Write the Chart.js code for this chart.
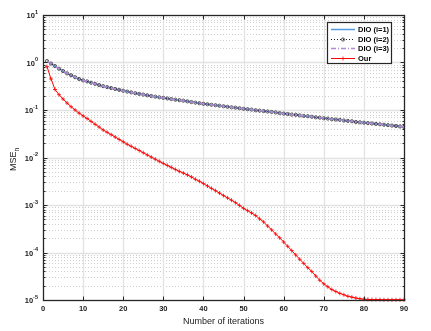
<!DOCTYPE html>
<html>
<head>
<meta charset="utf-8">
<script src="https://cdn.jsdelivr.net/npm/chart.js@4.4.0/dist/chart.umd.min.js"></script>
<style>
  html, body { margin: 0; padding: 0; background: #fff; }
  canvas { display: block; }
</style>
</head>
<body>
<canvas id="mseChart" width="431" height="331"></canvas>
<script>
// iterations 1..90
const iterations = Array.from({ length: 90 }, (_, i) => i + 1);

// DIO curves (i=1,2,3 lie on top of each other)
const dioValues = [
  1.07, 0.95, 0.84, 0.74, 0.66, 0.59, 0.54, 0.49, 0.45, 0.42,
  0.40, 0.375, 0.355, 0.335, 0.318, 0.303, 0.29, 0.277, 0.265, 0.254,
  0.244, 0.235, 0.226, 0.218, 0.211, 0.204, 0.197, 0.191, 0.185, 0.180,
  0.175, 0.170, 0.165, 0.161, 0.157, 0.152, 0.147, 0.143, 0.139, 0.135,
  0.132, 0.129, 0.126, 0.123, 0.120, 0.117, 0.114, 0.112, 0.109, 0.106,
  0.104, 0.102, 0.099, 0.097, 0.095, 0.093, 0.091, 0.089, 0.086, 0.084,
  0.082, 0.080, 0.079, 0.077, 0.075, 0.074, 0.072, 0.070, 0.069, 0.067,
  0.066, 0.064, 0.063, 0.062, 0.060, 0.059, 0.058, 0.056, 0.055, 0.054,
  0.053, 0.052, 0.051, 0.050, 0.049, 0.048, 0.047, 0.046, 0.045, 0.044
];

// our method
const ourValues = [
  0.82, 0.45, 0.27, 0.21, 0.17, 0.14, 0.117, 0.100, 0.086, 0.075,
  0.066, 0.0575, 0.050, 0.0437, 0.038, 0.0339, 0.0302, 0.0269, 0.024, 0.0214,
  0.019, 0.0172, 0.0155, 0.014, 0.0126, 0.0113, 0.0102, 0.0092, 0.0083, 0.0075,
  0.0068, 0.0062, 0.0056, 0.0051, 0.0047, 0.0043, 0.0039, 0.00347, 0.00316, 0.00282,
  0.00251, 0.00224, 0.0020, 0.00178, 0.00158, 0.00141, 0.00126, 0.00112, 0.00098, 0.00085,
  0.00076, 0.00068, 0.00060, 0.00051, 0.00044, 0.00036, 0.00030, 0.000245, 0.000204, 0.000166,
  0.000135, 0.00011, 0.000089, 0.000072, 0.000059, 0.000048, 0.000040, 0.000032, 0.000026, 0.0000219,
  0.000019, 0.0000166, 0.0000151, 0.0000138, 0.0000129, 0.000012, 0.0000115, 0.000011, 0.0000106, 0.0000104,
  0.0000103, 0.0000102, 0.0000102, 0.0000102, 0.0000101, 0.0000101, 0.0000101, 0.0000101, 0.0000101, 0.0000101
];

const seriesLabels = ['DIO (i=1)', 'DIO (i=2)', 'DIO (i=3)', 'Our'];
const xTicks = [0, 10, 20, 30, 40, 50, 60, 70, 80, 90];
const yExponents = [-5, -4, -3, -2, -1, 0, 1];

const FONT = '"Liberation Sans", Arial, sans-serif';

function pts(vals) {
  return iterations.map((x, i) => ({ x: x, y: vals[i] }));
}

// grid, box, tick marks, y labels, y title and legend drawn MATLAB style
const matlabFrame = {
  id: 'matlabFrame',
  beforeDatasetsDraw(chart) {
    const { ctx, chartArea: a, scales: { x, y } } = chart;
    ctx.save();
    ctx.lineWidth = 1;
    // minor grid (dotted, y only)
    ctx.strokeStyle = '#cfcfcf';
    ctx.setLineDash([1, 2]);
    ctx.beginPath();
    for (let e = -5; e < 1; e++) {
      for (let k = 2; k <= 9; k++) {
        const py = Math.round(y.getPixelForValue(k * Math.pow(10, e))) + 0.5;
        ctx.moveTo(a.left, py); ctx.lineTo(a.right, py);
      }
    }
    ctx.stroke();
    // major grid
    ctx.setLineDash([]);
    ctx.strokeStyle = '#e2e2e2';
    ctx.lineWidth = 1.3;
    ctx.beginPath();
    xTicks.slice(1, -1).forEach(v => {
      const px = Math.round(x.getPixelForValue(v)) + 0.5;
      ctx.moveTo(px, a.top); ctx.lineTo(px, a.bottom);
    });
    yExponents.slice(1, -1).forEach(e => {
      const py = Math.round(y.getPixelForValue(Math.pow(10, e))) + 0.5;
      ctx.moveTo(a.left, py); ctx.lineTo(a.right, py);
    });
    ctx.stroke();
    ctx.restore();
  },
  afterDatasetsDraw(chart) {
    const { ctx, chartArea: a, scales: { x, y } } = chart;
    const L = Math.round(a.left) + 0.5, R = Math.round(a.right) + 0.5;
    const T = Math.round(a.top) + 0.5, B = Math.round(a.bottom) + 0.5;
    ctx.save();
    ctx.strokeStyle = '#262626';
    ctx.lineWidth = 1.3;
    ctx.strokeRect(L, T, R - L, B - T);

    // tick marks inside the box
    ctx.lineWidth = 1;
    ctx.beginPath();
    xTicks.forEach(v => {
      const px = Math.round(x.getPixelForValue(v)) + 0.5;
      ctx.moveTo(px, B); ctx.lineTo(px, B - 4);
      ctx.moveTo(px, T); ctx.lineTo(px, T + 4);
    });
    yExponents.forEach(e => {
      const py = Math.round(y.getPixelForValue(Math.pow(10, e))) + 0.5;
      ctx.moveTo(L, py); ctx.lineTo(L + 4, py);
      ctx.moveTo(R, py); ctx.lineTo(R - 4, py);
      if (e < 1) {
        for (let k = 2; k <= 9; k++) {
          const my = Math.round(y.getPixelForValue(k * Math.pow(10, e))) + 0.5;
          ctx.moveTo(L, my); ctx.lineTo(L + 2, my);
          ctx.moveTo(R, my); ctx.lineTo(R - 2, my);
        }
      }
    });
    ctx.stroke();

    // y tick labels 10^n
    ctx.fillStyle = '#1a1a1a';
    ctx.textBaseline = 'alphabetic';
    yExponents.forEach(e => {
      const py = y.getPixelForValue(Math.pow(10, e));
      const expTxt = String(e);
      ctx.font = 'bold 5.5px ' + FONT;
      const we = ctx.measureText(expTxt).width;
      const right = a.left - 5;
      ctx.textAlign = 'left';
      ctx.fillText(expTxt, right - we, py - 1.5);
      ctx.font = 'bold 7.5px ' + FONT;
      ctx.textAlign = 'right';
      ctx.fillText('10', right - we, py + 3);
    });

    // y title MSE_n
    ctx.save();
    ctx.translate(16, (a.top + a.bottom) / 2 + 2);
    ctx.rotate(-Math.PI / 2);
    ctx.font = '9px ' + FONT;
    const wMain = ctx.measureText('MSE').width;
    ctx.font = '6.5px ' + FONT;
    const wSub = ctx.measureText('n').width;
    const start = -(wMain + wSub) / 2;
    ctx.textAlign = 'left';
    ctx.font = '9px ' + FONT;
    ctx.fillText('MSE', start, 0);
    ctx.font = '6.5px ' + FONT;
    ctx.fillText('n', start + wMain, 2.5);
    ctx.restore();

    // x title
    ctx.font = '9px ' + FONT;
    ctx.textAlign = 'center';
    ctx.fillText('Number of iterations', (a.left + a.right) / 2, 324);

    // legend
    const bx = 327.5, by = 22.5, bw = 64, bh = 41;
    ctx.fillStyle = '#fff';
    ctx.fillRect(bx, by, bw, bh);
    ctx.strokeStyle = '#262626';
    ctx.lineWidth = 1.2;
    ctx.strokeRect(bx, by, bw, bh);
    const rowY = [29, 38.7, 48.3, 58.3];
    chart.data.datasets.forEach((ds, i) => {
      const ly = Math.round(rowY[i]) + 0.5;
      ctx.strokeStyle = ds.borderColor;
      ctx.lineWidth = ds.borderWidth;
      ctx.setLineDash(ds.borderDash || []);
      ctx.beginPath();
      ctx.moveTo(331, ly); ctx.lineTo(355, ly);
      ctx.stroke();
      ctx.setLineDash([]);
      if (ds.pointRadius > 0) {
        ctx.strokeStyle = ds.pointBorderColor;
        ctx.lineWidth = ds.pointBorderWidth;
        ctx.beginPath();
        if (ds.pointStyle === 'cross') {
          ctx.moveTo(343 - 2, ly); ctx.lineTo(343 + 2, ly);
          ctx.moveTo(343, ly - 2); ctx.lineTo(343, ly + 2);
        } else {
          ctx.arc(343, ly, ds.pointRadius, 0, Math.PI * 2);
        }
        ctx.stroke();
      }
      ctx.fillStyle = '#000';
      ctx.font = 'bold 7.5px ' + FONT;
      ctx.textAlign = 'left';
      ctx.textBaseline = 'middle';
      ctx.fillText(ds.label, 358, ly + 0.5);
    });
    ctx.restore();
  }
};

const ctx = document.getElementById('mseChart').getContext('2d');
const mseChart = new Chart(ctx, {
  type: 'line',
  data: {
    datasets: [
      {
        label: seriesLabels[0], data: pts(dioValues),
        borderColor: '#4f9ae0', borderWidth: 1.5, pointRadius: 0, order: 3
      },
      {
        label: seriesLabels[1], data: pts(dioValues),
        borderColor: '#1a1a1a', borderWidth: 1, borderDash: [1, 2],
        pointStyle: 'circle', pointRadius: 1.6, pointBorderColor: '#404040',
        pointBackgroundColor: 'rgba(0,0,0,0)', pointBorderWidth: 0.9, order: 2
      },
      {
        label: seriesLabels[2], data: pts(dioValues),
        borderColor: '#b08ad4', borderWidth: 1.6, borderDash: [5, 2, 1, 2],
        pointRadius: 0, order: 1
      },
      {
        label: seriesLabels[3], data: pts(ourValues),
        borderColor: '#ff0000', borderWidth: 1,
        pointStyle: 'cross', pointRadius: 2, pointBorderColor: '#ff0000',
        pointBorderWidth: 0.8, clip: false, order: 0
      }
    ]
  },
  options: {
    responsive: false,
    animation: false,
    events: [],
    layout: { padding: { top: 15, right: 27, left: 0, bottom: 0 } },
    elements: { line: { tension: 0 } },
    plugins: { legend: { display: false }, tooltip: { enabled: false } },
    scales: {
      x: {
        type: 'linear', min: 0, max: 90,
        afterBuildTicks: s => { s.ticks = xTicks.map(v => ({ value: v })); },
        afterFit: s => { s.height = 31; },
        grid: { display: false, drawTicks: false },
        border: { display: false },
        ticks: { color: '#1a1a1a', padding: 4, maxRotation: 0, autoSkip: false,
                 font: { family: FONT, size: 7.5, weight: 'bold' } }
      },
      y: {
        type: 'logarithmic', min: 1e-5, max: 10,
        afterBuildTicks: s => { s.ticks = yExponents.map(e => ({ value: Math.pow(10, e) })); },
        afterFit: s => { s.width = 43; },
        grid: { display: false, drawTicks: false },
        border: { display: false },
        ticks: { display: false }
      }
    }
  },
  plugins: [matlabFrame]
});
</script>
</body>
</html>
